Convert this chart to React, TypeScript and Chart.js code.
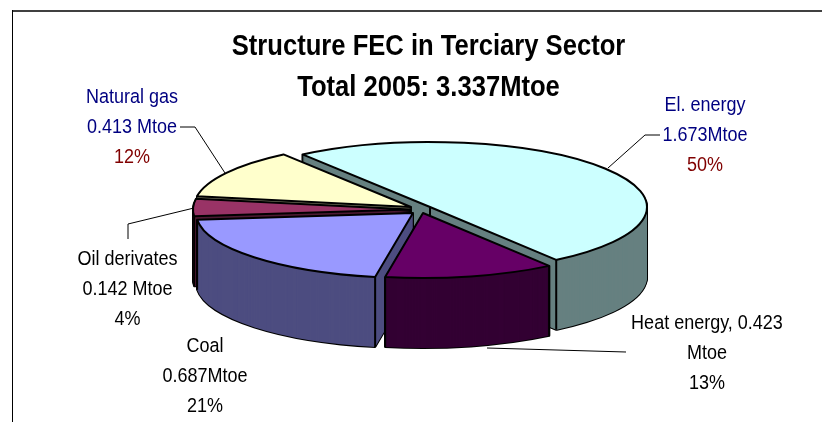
import React, { useEffect, useRef } from "react";
import { Chart, registerables } from "chart.js";

Chart.register(...registerables);

const categories = ["El. energy", "Heat energy", "Coal", "Oil derivates", "Natural gas"];
const valuesMtoe = [1.673, 0.423, 0.687, 0.142, 0.413];
const topColors = ["#CCFFFF", "#660066", "#9999FF", "#993366", "#FFFFCC"];
const wallColors = ["#668080", "#330033", "#4D4D80", "#4D1A33", "#808066"];
const titleLines = ["Structure FEC in Terciary Sector", "Total 2005: 3.337Mtoe"];
const labelLines = [
  ["El. energy", "1.673Mtoe", "50%"],
  ["Heat energy, 0.423", "Mtoe", "13%"],
  ["Coal", "0.687Mtoe", "21%"],
  ["Oil derivates", "0.142 Mtoe", "4%"],
  ["Natural gas", "0.413 Mtoe", "12%"],
];
const labelColors = [
  ["#000080", "#000080", "#800000"],
  ["#000000", "#000000", "#000000"],
  ["#000000", "#000000", "#000000"],
  ["#000000", "#000000", "#000000"],
  ["#000080", "#000080", "#800000"],
];

// Layout of the annotations and the pie projection
const labelCentres = [705, 707, 205, 127.5, 132];
const labelBaselines = [111, 329, 352, 265, 103];
const labelLeading = 29.8;
const textStretch = 1.16;
const outline = 2;
const leaders = [
  [[660, 135], [645, 135], [608, 168]],
  [[626, 352], [487, 348]],
  [],
  [[128, 239], [128, 224], [194, 208]],
  [[180, 127], [195, 127], [225, 173]],
];
const pie = { x: 418, y: 208, rx: 217, ry: 65, depth: 70 };
const sliceShiftX = [12, 5, -5, -8, -7];
const sliceShiftY = [-1, 5, 5, 1.5, -1];
const paintOrder = [0, 4, 3, 2, 1];

const extrudedPie = {
  id: "extrudedPie",
  beforeDraw(chart: any) {
    const { ctx, width } = chart;
    ctx.save();
    ctx.strokeStyle = "#404040";
    ctx.lineWidth = 2;
    ctx.beginPath();
    ctx.moveTo(12, 11);
    ctx.lineTo(width, 11);
    ctx.stroke();
    ctx.strokeStyle = "#000";
    ctx.lineWidth = 1;
    ctx.beginPath();
    ctx.moveTo(12.5, 10);
    ctx.lineTo(12.5, chart.height);
    ctx.stroke();
    ctx.restore();
    // the title box is drawn next: stretch its glyphs vertically like the original
    const nativeFill = ctx.fillText;
    ctx.fillText = function (t: string, x: number, y: number) {
      ctx.save();
      ctx.translate(x, y);
      ctx.scale(1, 1.12);
      nativeFill.call(ctx, t, 0, 0);
      ctx.restore();
    };
  },
  beforeDatasetsDraw(chart: any) {
    const { ctx } = chart;
    delete ctx.fillText;
    const arcs = chart.getDatasetMeta(0).data;
    const nativeStroke = ctx.stroke;
    // keep outlines at a uniform width, whatever the projection does to the path
    ctx.stroke = function (...args: any[]) {
      ctx.save();
      ctx.resetTransform();
      nativeStroke.apply(ctx, args);
      ctx.restore();
    };
    const drawCopy = (arc: any, i: number, drop: number, fill: string, bw: number, stroke = "#000") => {
      const orig = arc.options;
      const sx = pie.rx / arc.outerRadius;
      const sy = pie.ry / arc.outerRadius;
      arc.options = Object.assign({}, orig, {
        backgroundColor: fill,
        borderColor: stroke,
        borderWidth: bw,
        borderJoinStyle: "round",
      });
      ctx.save();
      ctx.translate(pie.x + sliceShiftX[i], pie.y + sliceShiftY[i] + drop);
      ctx.scale(sx, sy);
      ctx.translate(-arc.x, -arc.y);
      arc.draw(ctx);
      ctx.restore();
      arc.options = orig;
    };
    const verticalEdges = (arc: any, i: number) => {
      const cx = pie.x + sliceShiftX[i];
      const cy = pie.y + sliceShiftY[i];
      ctx.save();
      ctx.strokeStyle = "#000";
      ctx.lineWidth = outline;
      ctx.beginPath();
      if (arc.circumference > 3) {
        ctx.moveTo(cx, cy);
        ctx.lineTo(cx, cy + pie.depth);
      }
      for (const a of [arc.startAngle, arc.endAngle]) {
        if (Math.sin(a) > 0) {
          const px = cx + Math.cos(a) * pie.rx;
          const py = cy + Math.sin(a) * pie.ry;
          ctx.moveTo(px, py);
          ctx.lineTo(px, py + pie.depth);
        }
      }
      ctx.stroke();
      ctx.restore();
    };
    for (const i of paintOrder) {
      const arc = arcs[i];
      for (let d = pie.depth; d >= 1; d -= 1) drawCopy(arc, i, d, "#000", outline);
      for (let d = pie.depth; d >= 1; d -= 1) drawCopy(arc, i, d, wallColors[i], 0);
      verticalEdges(arc, i);
      drawCopy(arc, i, 0, topColors[i], outline);
    }
    delete ctx.stroke;
    return false;
  },
  afterDraw(chart: any) {
    const { ctx } = chart;
    ctx.save();
    ctx.font = '18px "Liberation Sans", Arial, sans-serif';
    ctx.textAlign = "center";
    ctx.textBaseline = "alphabetic";
    labelLines.forEach((lines, i) => {
      lines.forEach((t, j) => {
        ctx.save();
        ctx.fillStyle = labelColors[i][j];
        ctx.translate(labelCentres[i], labelBaselines[i] + j * labelLeading);
        ctx.scale(1, textStretch);
        ctx.fillText(t, 0, 0);
        ctx.restore();
      });
      const pts = leaders[i];
      if (pts.length) {
        ctx.strokeStyle = "#000";
        ctx.lineWidth = 1;
        ctx.beginPath();
        pts.forEach(([x, y], k) => (k ? ctx.lineTo(x, y) : ctx.moveTo(x, y)));
        ctx.stroke();
      }
    });
    ctx.restore();
  },
};

export default function App() {
  const ref = useRef<HTMLCanvasElement | null>(null);
  useEffect(() => {
    const chart = new Chart(ref.current as HTMLCanvasElement, {
      type: "pie",
      data: {
        labels: categories,
        datasets: [{ data: valuesMtoe, backgroundColor: topColors, borderColor: "#000", borderWidth: outline }],
      },
      options: {
        responsive: false,
        animation: false,
        rotation: -36,
        layout: { padding: { left: 35, top: 27 } },
        plugins: {
          legend: { display: false },
          tooltip: { enabled: false },
          title: {
            display: true,
            text: titleLines,
            color: "#000",
            font: { family: '"Liberation Sans", Arial, sans-serif', size: 25.6, weight: "bold", lineHeight: 1.58 },
            padding: 0,
          },
        },
      },
      plugins: [extrudedPie],
    } as any);
    return () => chart.destroy();
  }, []);
  return (
    <div style={{ position: "absolute", left: 0, top: 0, width: 822, height: 422, overflow: "hidden", background: "#fff" }}>
      <canvas ref={ref} width={822} height={422} style={{ display: "block" }} />
    </div>
  );
}
